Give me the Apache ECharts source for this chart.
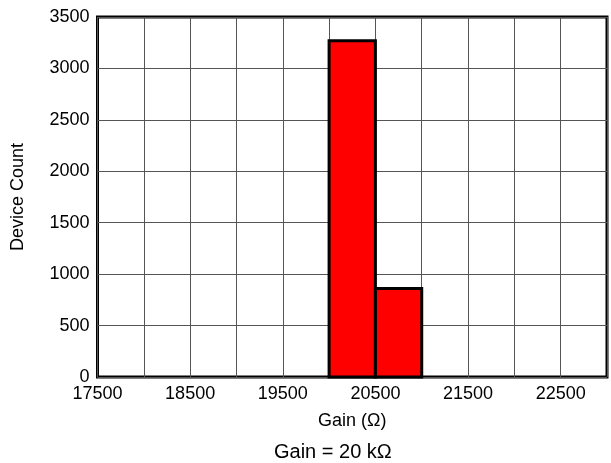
<!DOCTYPE html>
<html><head><meta charset="utf-8">
<script src="https://cdn.jsdelivr.net/npm/echarts@6/dist/echarts.min.js"></script>
<style>html,body{margin:0;padding:0;background:#fff}#c{width:611px;height:463px}</style>
</head><body><div id="c"></div>
<script>
const binStarts = [20000, 20500];
const binEnds = [20500, 21000];
const counts = [3270, 860];
const xTickLabels = [17500, 18500, 19500, 20500, 21500, 22500];

const chart = echarts.init(document.getElementById('c'));
const data = binStarts.map((s, i) => [s, binEnds[i], counts[i]]);
const font = 'Liberation Sans, Arial, Helvetica, sans-serif';
chart.setOption({
  animation: false,
  grid: {left: 97.5, right: 4, top: 17, bottom: 86, show: true, borderColor: '#000', borderWidth: 3, backgroundColor: 'transparent'},
  xAxis: {
    type: 'value', min: 17500, max: 23000, interval: 500,
    axisLine: {show: false}, axisTick: {show: false},
    splitLine: {show: true, lineStyle: {color: '#555', width: 1}},
    axisLabel: {color: '#000', fontSize: 18, fontFamily: font, margin: 8,
      formatter: v => xTickLabels.indexOf(v) >= 0 ? String(v) : ''},
    name: 'Gain (Ω)', nameLocation: 'middle', nameGap: 35, nameMoveOverlap: false,
    nameTextStyle: {color: '#000', fontSize: 18, fontFamily: font}
  },
  yAxis: {
    type: 'value', min: 0, max: 3500, interval: 500,
    axisLine: {show: false}, axisTick: {show: false},
    splitLine: {show: true, lineStyle: {color: '#555', width: 1}},
    axisLabel: {color: '#000', fontSize: 18, fontFamily: font, margin: 8, formatter: v => String(v)},
    name: 'Device Count', nameLocation: 'middle', nameGap: 70, nameMoveOverlap: false,
    nameTextStyle: {color: '#000', fontSize: 18, fontFamily: font}
  },
  graphic: [{type: 'text', left: 274, top: 442, style: {text: 'Gain = 20 kΩ', fontSize: 20, fontFamily: font, fill: '#000'}}],
  series: [{
    type: 'custom',
    data: data,
    encode: {x: [0, 1], y: 2},
    renderItem: function (params, api) {
      const p0 = api.coord([api.value(0), 0]);
      const p1 = api.coord([api.value(1), api.value(2)]);
      return {type: 'rect', shape: {x: p0[0], y: p1[1], width: p1[0] - p0[0], height: p0[1] - p1[1]},
        style: {fill: '#ff0000', stroke: '#000', lineWidth: 3}};
    }
  }]
});
</script></body></html>
